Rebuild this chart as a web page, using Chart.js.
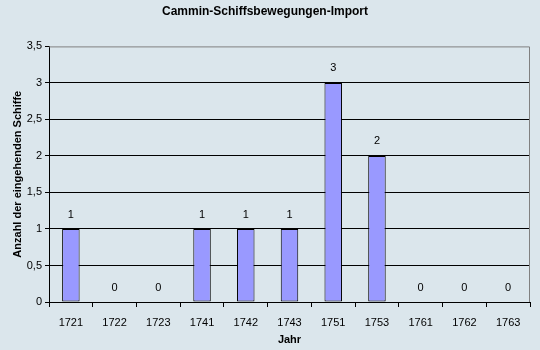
<!DOCTYPE html>
<html>
<head>
<meta charset="utf-8">
<script src="https://cdn.jsdelivr.net/npm/chart.js@4"></script>
<style>
  html, body { margin: 0; padding: 0; background: #dbe6ec; }
  #wrap { width: 540px; height: 350px; }
</style>
</head>
<body>
<div id="wrap"><canvas id="chart" width="540" height="350"></canvas></div>
<script>
// --- DATA ---
const years = ["1721", "1722", "1723", "1741", "1742", "1743", "1751", "1753", "1761", "1762", "1763"];
const ships = [1, 0, 0, 1, 1, 1, 3, 2, 0, 0, 0];
const yTicks = [0, 0.5, 1, 1.5, 2, 2.5, 3, 3.5];

const FONT = "Arial, 'Liberation Sans', sans-serif";

// gray frame on top/right of the plot area
const frame = {
    id: "frame",
    beforeDatasetsDraw(chart) {
        const { ctx, chartArea: a } = chart;
        ctx.save();
        ctx.strokeStyle = "#808080";
        ctx.lineWidth = 1;
        ctx.beginPath();
        ctx.moveTo(a.left, a.top + 0.5);
        ctx.lineTo(a.right - 0.5, a.top + 0.5);
        ctx.lineTo(a.right - 0.5, a.bottom);
        ctx.stroke();
        ctx.restore();
    }
};

// value labels above bars
const valueLabels = {
    id: "valueLabels",
    afterDatasetsDraw(chart) {
        const { ctx } = chart;
        const meta = chart.getDatasetMeta(0);
        ctx.save();
        ctx.fillStyle = "#000";
        ctx.font = "11px " + FONT;
        ctx.textAlign = "center";
        ctx.textBaseline = "bottom";
        meta.data.forEach((bar, i) => {
            ctx.fillText(String(ships[i]), bar.x, bar.y - 9);
        });
        ctx.restore();
    }
};

new Chart(document.getElementById("chart"), {
    type: "bar",
    data: {
        labels: years,
        datasets: [{
            data: ships,
            backgroundColor: "#9999ff",
            borderColor: "#000",
            borderWidth: ships.map(v => (v === 0 ? 0 : 1)),
            borderSkipped: false,
            categoryPercentage: 1,
            barPercentage: 0.4
        }]
    },
    options: {
        responsive: false,
        animation: false,
        layout: { padding: { left: 0, right: 10, top: 0, bottom: 0 } },
        plugins: {
            legend: { display: false },
            tooltip: { enabled: false },
            title: {
                display: true,
                text: "Cammin-Schiffsbewegungen-Import",
                color: "#000",
                font: { family: FONT, size: 12, weight: "bold" },
                padding: { top: 4, bottom: 28 }
            }
        },
        scales: {
            x: {
                offset: true,
                afterFit: s => { s.height = 48; },
                grid: { offset: true, drawOnChartArea: false, color: "#000", tickLength: 5 },
                border: { color: "#000" },
                ticks: { color: "#000", font: { family: FONT, size: 11 }, padding: 9, maxRotation: 0 },
                title: { display: true, text: "Jahr", color: "#000", font: { family: FONT, size: 11, weight: "bold" }, padding: { top: 0, bottom: 3 } }
            },
            y: {
                min: 0,
                max: 3.5,
                afterBuildTicks: s => { s.ticks = yTicks.map(v => ({ value: v })); },
                afterFit: s => { s.width = 49; },
                grid: {
                    color: c => (c.tick && c.tick.value === 3.5 ? "rgba(0,0,0,0)" : "#000"),
                    tickColor: "#000",
                    tickLength: 4
                },
                border: { color: "#000" },
                ticks: {
                    color: "#000",
                    font: { family: FONT, size: 11 },
                    padding: 3,
                    callback: v => String(v).replace(".", ",")
                },
                title: { display: true, text: "Anzahl der eingehenden Schiffe", color: "#000", font: { family: FONT, size: 11, weight: "bold" }, padding: { top: 11, bottom: 0 } }
            }
        }
    },
    plugins: [frame, valueLabels]
});
</script>
</body>
</html>
